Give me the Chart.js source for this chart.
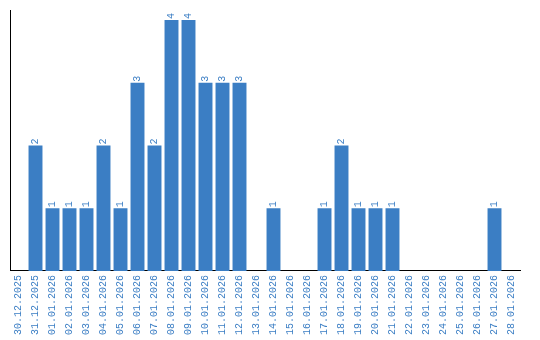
<!DOCTYPE html>
<html>
<head>
<meta charset="utf-8">
<script src="https://cdn.jsdelivr.net/npm/chart.js@4/dist/chart.umd.min.js"></script>
<style>
  html, body { margin: 0; padding: 0; background: #fff; }
  #wrap { width: 540px; height: 340px; }
</style>
</head>
<body>
<div id="wrap"><canvas id="chart"></canvas></div>
<script>
// Daily counts, 30.12.2025 – 28.01.2026
const days = [
    '30.12.2025', '31.12.2025', '01.01.2026', '02.01.2026', '03.01.2026',
    '04.01.2026', '05.01.2026', '06.01.2026', '07.01.2026', '08.01.2026',
    '09.01.2026', '10.01.2026', '11.01.2026', '12.01.2026', '13.01.2026',
    '14.01.2026', '15.01.2026', '16.01.2026', '17.01.2026', '18.01.2026',
    '19.01.2026', '20.01.2026', '21.01.2026', '22.01.2026', '23.01.2026',
    '24.01.2026', '25.01.2026', '26.01.2026', '27.01.2026', '28.01.2026'
];
const counts = [
    0, 2, 1, 1, 1,
    2, 1, 3, 2, 4,
    4, 3, 3, 3, 0,
    1, 0, 0, 1, 2,
    1, 1, 1, 0, 0,
    0, 0, 0, 1, 0
];

const BLUE = '#3b7ec4';
const MONO = '"Liberation Mono", "DejaVu Sans Mono", monospace';

// ── value labels above bars, rotated like the ticks ─────────────
const valueLabels = {
    id: 'valueLabels',
    afterDatasetsDraw(chart) {
        const { ctx } = chart;
        const meta = chart.getDatasetMeta(0);
        ctx.save();
        ctx.fillStyle = BLUE;
        ctx.font = '10px ' + MONO;
        ctx.textAlign = 'left';
        ctx.textBaseline = 'middle';
        meta.data.forEach((bar, i) => {
            const v = counts[i];
            if (!v) return;
            ctx.save();
            ctx.translate(bar.x, bar.y - 1);
            ctx.rotate(-Math.PI / 2);
            ctx.fillText(String(v), 0, 0);
            ctx.restore();
        });
        ctx.restore();
    }
};

new Chart(document.getElementById('chart'), {
    type: 'bar',
    data: {
        labels: days,
        datasets: [{
            data: counts,
            backgroundColor: BLUE,
            categoryPercentage: 1,
            barPercentage: 0.82,
        }]
    },
    options: {
        responsive: true, maintainAspectRatio: false,
        animation: false,
        layout: { padding: { left: 10, right: 20, top: 10, bottom: 1 } },
        plugins: { legend: { display: false }, tooltip: { enabled: false } },
        scales: {
            x: {
                grid: { display: false, drawTicks: false },
                border: { color: '#000', width: 1 },
                ticks: {
                    color: BLUE,
                    font: { family: MONO, size: 10 },
                    minRotation: 90, maxRotation: 90,
                    autoSkip: false, padding: 4
                }
            },
            y: {
                min: 0, max: 4.16,
                grid: { display: false, drawTicks: false },
                border: { color: '#000', width: 1 },
                ticks: { display: false }
            }
        }
    },
    plugins: [valueLabels]
});
</script>
</body>
</html>
